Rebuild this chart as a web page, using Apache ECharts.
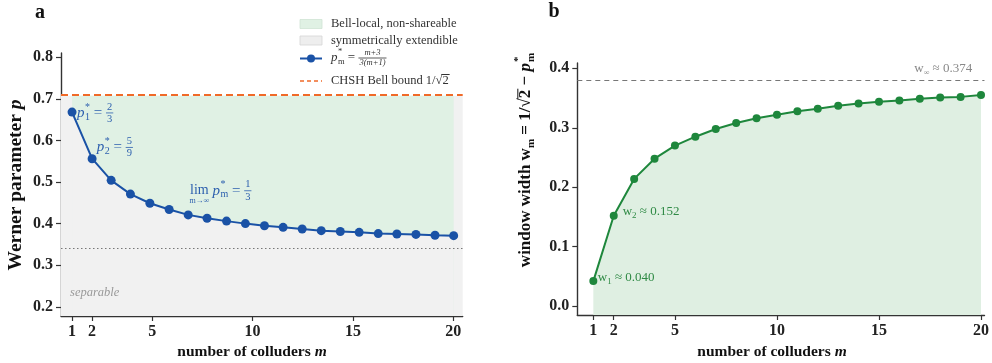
<!DOCTYPE html>
<html><head><meta charset="utf-8">
<script src="https://cdn.jsdelivr.net/npm/echarts@6/dist/echarts.min.js"></script>
<style>html,body{margin:0;padding:0;background:#fff}#c{width:992px;height:363px}</style>
</head><body><div id="c"></div>
<script>
// ---------------- data ----------------
const mLeft = [1.00, 2.00, 2.95, 3.91, 4.88, 5.84, 6.79, 7.73, 8.70, 9.64, 10.59, 11.52, 12.47, 13.42, 14.37, 15.31, 16.26, 17.19, 18.14, 19.09, 20.02];
const pStar = [0.668, 0.556, 0.504, 0.471, 0.449, 0.434, 0.421, 0.413, 0.406, 0.400, 0.395, 0.391, 0.387, 0.383, 0.381, 0.379, 0.376, 0.375, 0.374, 0.372, 0.371];
const mRight = [1, 2, 3, 4, 5, 6, 7, 8, 9, 10, 11, 12, 13, 14, 15, 16, 17, 18, 19, 20];
const wWidth = [0.042, 0.152, 0.214, 0.248, 0.270, 0.285, 0.298, 0.308, 0.316, 0.322, 0.328, 0.332, 0.337, 0.341, 0.344, 0.346, 0.349, 0.351, 0.352, 0.355];
const bellBound = 0.707;
const separableLine = 0.338;
const wInf = 0.377;
const xTicks = [1, 2, 5, 10, 15, 20];
const yTicksLeft = [0.2, 0.3, 0.4, 0.5, 0.6, 0.7, 0.8];
const yTicksRight = [0.0, 0.1, 0.2, 0.3, 0.4];

// ---------------- styling ----------------
const SERIF = '"Liberation Serif", "Times New Roman", serif';
const BLUE = '#1a52a6', BLUE_T = '#2c5fae';
const GREEN = '#1e873c', GREEN_T = '#2f8a45';
const ORANGE = '#f06a28';
const FILL_G = '#e0f1e4', FILL_GR = '#f1f1f1', FILL_G2 = '#dfefe2';
const AX = '#333';

const chart = echarts.init(document.getElementById('c'), null, {renderer: 'canvas'});

function axisCommon(ticks, fmt) {
  return {
    axisLine: {show: true, onZero: false, lineStyle: {color: AX, width: 1.4}},
    axisTick: {show: true, length: 5, customValues: ticks, lineStyle: {color: AX, width: 1.2}},
    axisLabel: {customValues: ticks, formatter: fmt, fontFamily: SERIF, fontWeight: 'bold', fontSize: 16, color: '#222', margin: 8},
    splitLine: {show: false}
  };
}

const option = {
  animation: false,
  backgroundColor: '#fff',
  grid: [
    {left: 61, top: 53, width: 401.7, height: 263},
    {left: 577.3, top: 63, width: 410, height: 252}
  ],
  xAxis: [
    Object.assign({type: 'value', gridIndex: 0, min: 0.45, max: 20.47}, axisCommon(xTicks, v => String(v))),
    Object.assign({type: 'value', gridIndex: 1, min: 0.214, max: 20.17}, axisCommon(xTicks, v => String(v)))
  ],
  yAxis: [
    Object.assign({type: 'value', gridIndex: 0, min: 0.178, max: 0.81}, axisCommon(yTicksLeft, v => v.toFixed(1))),
    Object.assign({type: 'value', gridIndex: 1, min: -0.015, max: 0.409}, axisCommon(yTicksRight, v => v.toFixed(1)))
  ],
  series: [
    { // grey background: symmetrically extendible
      type: 'line', xAxisIndex: 0, yAxisIndex: 0, z: 0, silent: true,
      data: mLeft.map(m => [m, bellBound]), symbol: 'none', lineStyle: {opacity: 0},
      markArea: {silent: true, itemStyle: {color: FILL_GR}, data: [[{yAxis: 0.178}, {yAxis: bellBound}]]}
    },
    { // green: Bell-local, non-shareable (down to axis, then covered below curve)
      type: 'line', xAxisIndex: 0, yAxisIndex: 0, z: 1, silent: true,
      data: mLeft.map(m => [m, bellBound]), symbol: 'none', lineStyle: {opacity: 0},
      areaStyle: {color: FILL_G, opacity: 1, origin: 'start'}
    },
    { // grey under the curve
      type: 'line', xAxisIndex: 0, yAxisIndex: 0, z: 2, silent: true,
      data: mLeft.map((m, i) => [m, pStar[i]]), symbol: 'none', lineStyle: {opacity: 0},
      areaStyle: {color: FILL_GR, opacity: 1, origin: 'start'}
    },
    { // reference lines
      type: 'line', xAxisIndex: 0, yAxisIndex: 0, z: 3, silent: true,
      data: [], symbol: 'none',
      markLine: {silent: true, symbol: 'none', label: {show: false}, data: [
        {yAxis: bellBound, lineStyle: {color: ORANGE, type: [7, 4], width: 2}},
        {yAxis: separableLine, lineStyle: {color: '#777', type: [1.5, 2.5], width: 1}}
      ]}
    },
    { // p*_m curve
      type: 'line', xAxisIndex: 0, yAxisIndex: 0, z: 4,
      data: mLeft.map((m, i) => [m, pStar[i]]),
      symbol: 'circle', symbolSize: 9, itemStyle: {color: BLUE}, lineStyle: {color: BLUE, width: 2}
    },
    { // window width
      type: 'line', xAxisIndex: 1, yAxisIndex: 1, z: 4,
      data: mRight.map((m, i) => [m, wWidth[i]]),
      symbol: 'circle', symbolSize: 8, itemStyle: {color: GREEN}, lineStyle: {color: GREEN, width: 2},
      areaStyle: {color: FILL_G2, opacity: 1, origin: 'start'},
      markLine: {silent: true, symbol: 'none', label: {show: false}, data: [
        {yAxis: wInf, lineStyle: {color: '#777', type: [5, 4], width: 1.2}}
      ]}
    }
  ]
};
chart.setOption(option);

// ---------------- math-text helpers ----------------
const mctx = document.createElement('canvas').getContext('2d');
function fontStr(s) { return (s.italic ? 'italic ' : '') + (s.bold ? 'bold ' : '') + s.size + 'px ' + SERIF; }
function tw(t, s) { mctx.font = fontStr(s); return mctx.measureText(t).width; }
function T(text, x, y, s, color, align) {
  return {type: 'text', x: x, y: y, silent: true, z: 100,
    style: {text: text, font: fontStr(s), fill: color, align: align || 'left', verticalAlign: 'middle',
            textAlign: align || 'left', textVerticalAlign: 'middle'}};
}
function L(x1, y1, x2, y2, color, w) {
  return {type: 'line', silent: true, z: 100, shape: {x1: x1, y1: y1, x2: x2, y2: y2}, style: {stroke: color, lineWidth: w}};
}
function math(parts, color) {
  const els = []; let x = 0;
  for (const p of parts) {
    const s = {size: p.size, italic: !!p.italic, bold: !!p.bold};
    const dy = p.dy || 0;
    if (p.gap) x += p.gap;
    if (p.frac) {
      const wn = tw(p.frac[0], s), wd = tw(p.frac[1], s), W = Math.max(wn, wd) + 2;
      const off = p.size * 0.58;
      els.push(T(p.frac[0], x + W / 2, dy - off, s, color, 'center'));
      els.push(T(p.frac[1], x + W / 2, dy + off, s, color, 'center'));
      els.push(L(x, dy, x + W, dy, color, 0.8));
      x += W;
    } else {
      const w = tw(p.t, s);
      els.push(T(p.t, x, dy, s, color, 'left'));
      if (p.over) els.push(L(x - 1, dy - p.size * 0.48, x + w + 1, dy - p.size * 0.48, color, 1));
      if (p.under) {
        const us = {size: p.underSize, italic: false, bold: false};
        els.push(T(p.under, x + w / 2, dy + p.underDy, us, color, 'center'));
      }
      if (!p.stay) x += w;
    }
  }
  return {els: els, width: x};
}
function mgroup(parts, color, x, y, opt) {
  opt = opt || {};
  const m = math(parts, color);
  let ox = 0;
  if (opt.center) ox = -m.width / 2;
  if (opt.right) ox = -m.width;
  m.els.forEach(e => { e.x = (e.x || 0) + ox; });
  return {type: 'group', x: x, y: y, rotation: opt.rot || 0, z: 100, children: m.els};
}
const px0 = v => chart.convertToPixel({gridIndex: 0}, v);
const px1 = v => chart.convertToPixel({gridIndex: 1}, v);

const g = [];
// panel titles
g.push(mgroup([{t: 'a', size: 20, bold: true}], '#111', 40, 13, {center: true}));
g.push(mgroup([{t: 'b', size: 20, bold: true}], '#111', 554, 12, {center: true}));
// axis names
g.push(mgroup([{t: 'number of colluders ', size: 15.5, bold: true}, {t: 'm', size: 15.5, bold: true, italic: true}], '#111', 252, 352, {center: true}));
g.push(mgroup([{t: 'number of colluders ', size: 15.5, bold: true}, {t: 'm', size: 15.5, bold: true, italic: true}], '#111', 772, 352, {center: true}));
g.push(mgroup([{t: 'Werner parameter ', size: 19.5, bold: true}, {t: 'p', size: 19.5, bold: true, italic: true}], '#111', 16, 185, {center: true, rot: Math.PI / 2}));
g.push(mgroup([
  {t: 'window width w', size: 17, bold: true},
  {t: 'm', size: 11, bold: true, dy: 5},
  {t: ' = 1/', size: 17, bold: true},
  {t: '\u221A', size: 17, bold: true},
  {t: '2', size: 17, bold: true, over: true},
  {t: ' \u2212 ', size: 17, bold: true},
  {t: 'p', size: 17, bold: true, italic: true},
  {t: '*', size: 11, bold: true, dy: -8, stay: true, gap: 1},
  {t: 'm', size: 11, bold: true, dy: 5}
], '#111', 526, 160, {center: true, rot: Math.PI / 2}));

// legend (panel a)
g.push({type: 'rect', z: 100, shape: {x: 300, y: 19.5, width: 22, height: 9}, style: {fill: FILL_G, stroke: '#cfe3d3', lineWidth: 0.8}});
g.push(mgroup([{t: 'Bell-local, non-shareable', size: 12.5}], '#333', 331, 24));
g.push({type: 'rect', z: 100, shape: {x: 300, y: 36, width: 22, height: 9}, style: {fill: '#eeeeee', stroke: '#d4d4d4', lineWidth: 0.8}});
g.push(mgroup([{t: 'symmetrically extendible', size: 12.5}], '#333', 331, 40.5));
g.push({type: 'line', z: 100, shape: {x1: 300, y1: 58.5, x2: 322, y2: 58.5}, style: {stroke: BLUE, lineWidth: 2}});
g.push({type: 'circle', z: 101, shape: {cx: 311, cy: 58.5, r: 4}, style: {fill: BLUE}});
g.push(mgroup([
  {t: 'p', size: 13, italic: true},
  {t: '*', size: 8.5, dy: -6, stay: true, gap: 0.5},
  {t: 'm', size: 8.5, dy: 4},
  {t: ' = ', size: 13},
  {frac: ['m+3', '3(m+1)'], size: 8.5, italic: true}
], '#333', 331, 58));
g.push({type: 'line', z: 100, shape: {x1: 300, y1: 81, x2: 322, y2: 81}, style: {stroke: ORANGE, lineWidth: 1.6, lineDash: [4, 3]}});
g.push(mgroup([
  {t: 'CHSH Bell bound 1/', size: 12.5},
  {t: '\u221A', size: 12.5},
  {t: '2', size: 12.5, over: true}
], '#333', 331, 80.5));

// annotations panel a
let q = px0([1.25, 0.666]);
g.push(mgroup([
  {t: 'p', size: 15, italic: true},
  {t: '*', size: 10, dy: -6, stay: true, gap: 0.5},
  {t: '1', size: 10, dy: 4},
  {t: ' = ', size: 15},
  {frac: ['2', '3'], size: 10.5}
], BLUE_T, q[0], q[1]));
q = px0([2.23, 0.583]);
g.push(mgroup([
  {t: 'p', size: 15, italic: true},
  {t: '*', size: 10, dy: -6, stay: true, gap: 0.5},
  {t: '2', size: 10, dy: 4},
  {t: ' = ', size: 15},
  {frac: ['5', '9'], size: 10.5}
], BLUE_T, q[0], q[1]));
q = px0([6.88, 0.479]);
g.push(mgroup([
  {t: 'lim', size: 14, under: 'm\u2192\u221E', underSize: 8, underDy: 10},
  {t: ' p', size: 15, italic: true},
  {t: '*', size: 10, dy: -6, stay: true, gap: 0.5},
  {t: 'm', size: 10, dy: 4},
  {t: ' = ', size: 15},
  {frac: ['1', '3'], size: 10.5}
], BLUE_T, q[0], q[1]));
q = px0([0.9, 0.233]);
g.push(mgroup([{t: 'separable', size: 12.5, italic: true}], '#999', q[0], q[1]));

// annotations panel b
q = px1([1.22, 0.0476]);
g.push(mgroup([{t: 'w', size: 13}, {t: '1', size: 9, dy: 4}, {t: ' \u2248 0.040', size: 13}], GREEN_T, q[0], q[1]));
q = px1([2.44, 0.1585]);
g.push(mgroup([{t: 'w', size: 13}, {t: '2', size: 9, dy: 4}, {t: ' \u2248 0.152', size: 13}], GREEN_T, q[0], q[1]));
q = px1([19.57, 0.3995]);
g.push(mgroup([{t: 'w', size: 13}, {t: '\u221E', size: 8, dy: 4}, {t: ' \u2248 0.374', size: 13}], '#888', q[0], q[1], {right: true}));

chart.setOption({graphic: {elements: g}});
</script>
</body></html>
